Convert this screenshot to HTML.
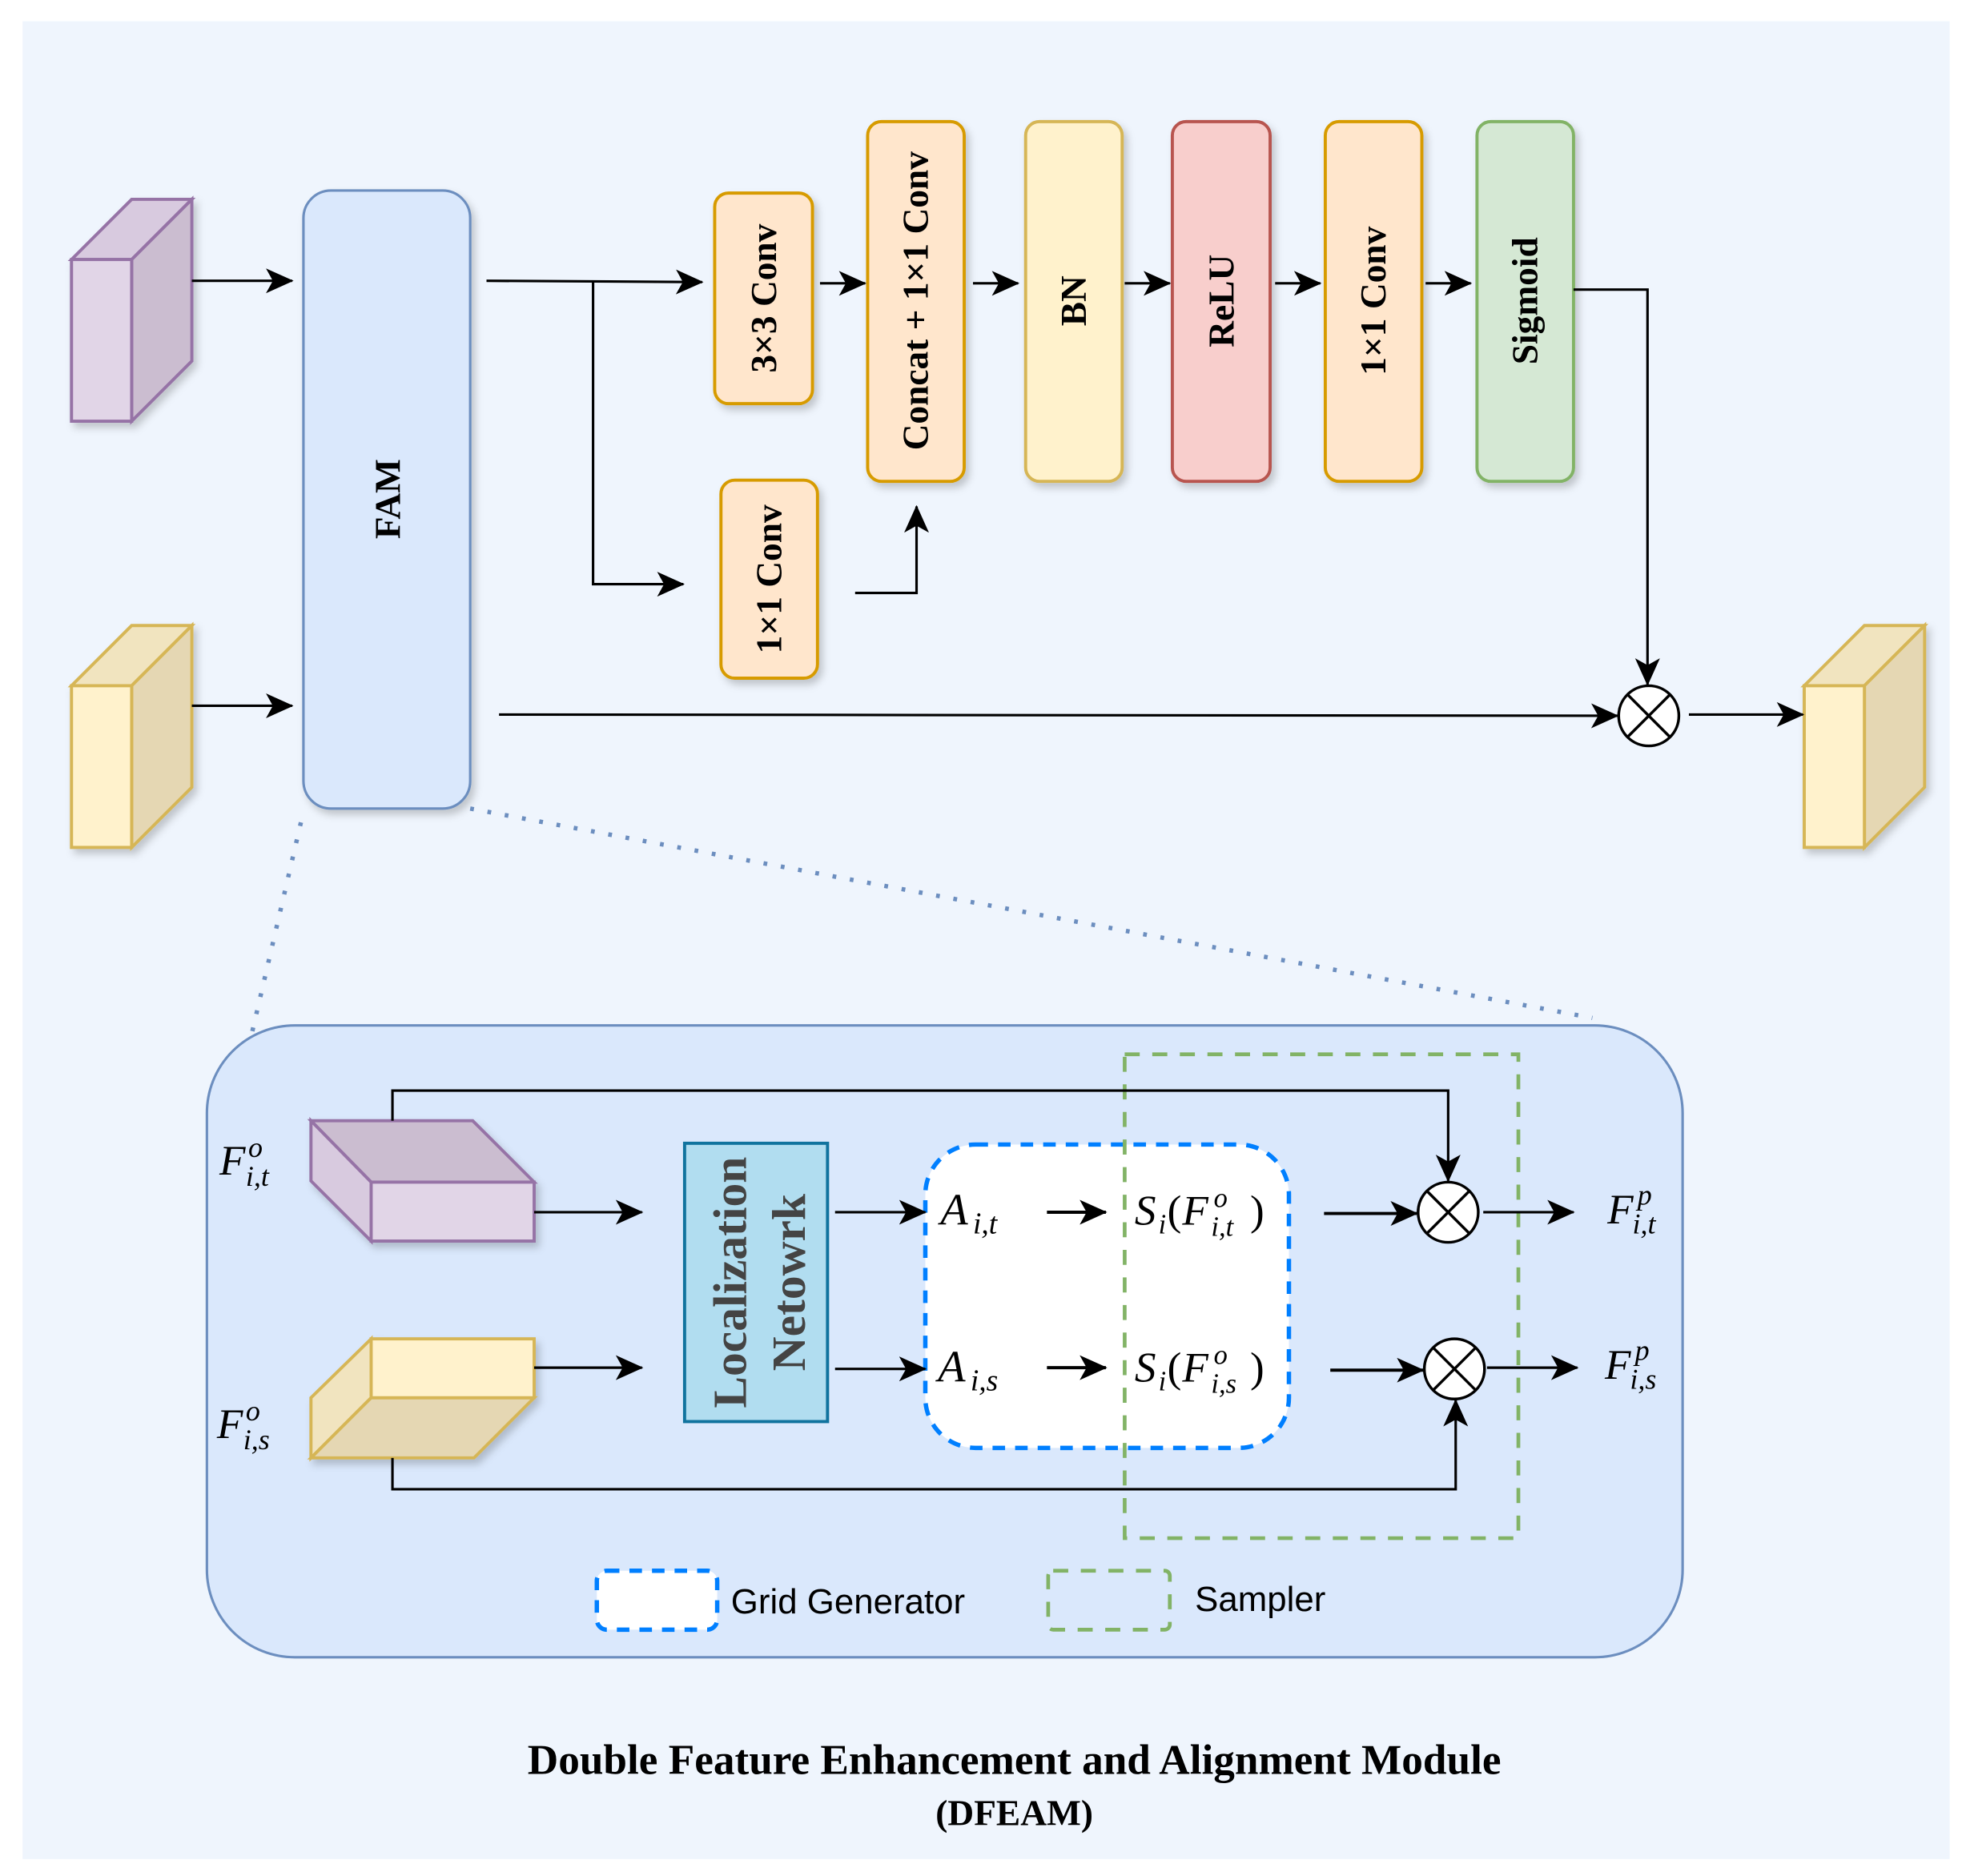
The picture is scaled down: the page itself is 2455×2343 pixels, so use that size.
<!DOCTYPE html>
<html><head><meta charset="utf-8"><style>html,body{margin:0;padding:0;background:#fff}svg{display:block}</style></head>
<body>
<svg width="2455" height="2343" viewBox="0 0 1568 1496.5" xmlns="http://www.w3.org/2000/svg">
<defs>
<marker id="ar2" viewBox="0 0 20 20" refX="19" refY="10" markerWidth="22" markerHeight="22" markerUnits="userSpaceOnUse" orient="auto"><path d="M0,1 L20,10 L0,19 L5,10 Z" fill="#000"/></marker>
<filter id="sh" x="-20%" y="-20%" width="150%" height="150%"><feDropShadow dx="3" dy="4" stdDeviation="3" flood-color="#000" flood-opacity="0.2"/></filter>
</defs>
<rect x="0" y="0" width="1568" height="1497" fill="#fff"/>
<rect x="18" y="17" width="1537" height="1466" fill="#eff5fd"/>

<g stroke-width="2.5" filter="url(#sh)">
<polygon points="57,207 105,159 153,159 105,207" fill="#d8cadf" stroke="#9673a6"/>
<polygon points="105,207 153,159 153,288 105,336" fill="#cbbdd0" stroke="#9673a6"/>
<rect x="57" y="207" width="48" height="129" fill="#e1d5e7" stroke="#9673a6"/>
<polygon points="57,547 105,499 153,499 105,547" fill="#f1e4bf" stroke="#d6b656"/>
<polygon points="105,547 153,499 153,628 105,676" fill="#e5d7b3" stroke="#d6b656"/>
<rect x="57" y="547" width="48" height="129" fill="#fff2cc" stroke="#d6b656"/>
<polygon points="1439,547 1487,499 1535,499 1487,547" fill="#f1e4bf" stroke="#d6b656"/>
<polygon points="1487,547 1535,499 1535,628 1487,676" fill="#e5d7b3" stroke="#d6b656"/>
<rect x="1439" y="547" width="48" height="129" fill="#fff2cc" stroke="#d6b656"/>

<rect x="242" y="152" width="133" height="493" rx="22" fill="#dae8fc" stroke="#6c8ebf" stroke-width="2"/>
<rect x="570" y="154" width="78" height="168" rx="11" fill="#ffe6cc" stroke="#d79b00"/>
<rect x="575" y="383" width="77" height="158" rx="11" fill="#ffe6cc" stroke="#d79b00"/>
<rect x="692" y="97" width="77" height="287" rx="11" fill="#ffe6cc" stroke="#d79b00"/>
<rect x="818" y="97" width="77" height="287" rx="11" fill="#fff2cc" stroke="#d6b656"/>
<rect x="935" y="97" width="78" height="287" rx="11" fill="#f8cecc" stroke="#b85450"/>
<rect x="1057" y="97" width="77" height="287" rx="11" fill="#ffe6cc" stroke="#d79b00"/>
<rect x="1178" y="97" width="77" height="287" rx="11" fill="#d5e8d4" stroke="#82b366"/>
</g>

<g font-family="Liberation Serif, serif" font-weight="bold" font-size="29" text-anchor="middle" fill="#000">
<text transform="translate(319,398) rotate(-90)">FAM</text>
<text transform="translate(619,238) rotate(-90)">3×3 Conv</text>
<text transform="translate(623,462) rotate(-90)">1×1 Conv</text>
<text transform="translate(740,240) rotate(-90)">Concat + 1×1 Conv</text>
<text transform="translate(866,240) rotate(-90)">BN</text>
<text transform="translate(984,240) rotate(-90)">ReLU</text>
<text transform="translate(1105,240) rotate(-90)">1×1 Conv</text>
<text transform="translate(1226,240) rotate(-90)">Sigmoid</text>
</g>

<g stroke="#000" stroke-width="2" fill="none">
<line x1="153" y1="224" x2="233" y2="224" marker-end="url(#ar2)"/>
<line x1="153" y1="563" x2="233" y2="563" marker-end="url(#ar2)"/>
<line x1="388" y1="224" x2="560" y2="225" marker-end="url(#ar2)"/>
<polyline points="473,225 473,466 545,466" marker-end="url(#ar2)"/>
<line x1="654" y1="226" x2="690" y2="226" marker-end="url(#ar2)"/>
<line x1="776" y1="226" x2="812" y2="226" marker-end="url(#ar2)"/>
<line x1="897" y1="226" x2="933" y2="226" marker-end="url(#ar2)"/>
<line x1="1017" y1="226" x2="1053" y2="226" marker-end="url(#ar2)"/>
<line x1="1137" y1="226" x2="1173" y2="226" marker-end="url(#ar2)"/>
<polyline points="682,473 731,473 731,404" marker-end="url(#ar2)"/>
<polyline points="1255,231 1314,231 1314,546" marker-end="url(#ar2)"/>
<line x1="398" y1="570" x2="1290" y2="571" marker-end="url(#ar2)"/>
<line x1="1347" y1="570" x2="1438" y2="570" marker-end="url(#ar2)"/>
</g>
<g stroke="#000" stroke-width="2.2">
<circle cx="1315" cy="571" r="24" fill="#fff"/>
<line x1="1298" y1="554" x2="1332" y2="588"/><line x1="1332" y1="554" x2="1298" y2="588"/>
</g>

<g stroke="#6c8ebf" stroke-width="3.5" stroke-dasharray="3,11" fill="none">
<line x1="240" y1="656" x2="200" y2="828"/>
<line x1="375" y1="645" x2="1270" y2="812"/>
</g>

<rect x="165" y="818" width="1177" height="504" rx="70" fill="#dae8fc" stroke="#6c8ebf" stroke-width="2"/>
<rect x="738" y="913" width="290" height="242" rx="40" fill="#fff" stroke="#007fff" stroke-width="3.5" stroke-dasharray="10,8"/>
<rect x="897" y="841" width="314" height="386" fill="none" stroke="#82b366" stroke-width="3" stroke-dasharray="12,10"/>

<g stroke-width="2.5" filter="url(#sh)">
<polygon points="248,894 377,894 426,943 296,943" fill="#cbbdd0" stroke="#9673a6"/>
<polygon points="248,894 296,943 296,990 248,942" fill="#d8cadf" stroke="#9673a6"/>
<rect x="296" y="943" width="130" height="47" fill="#e1d5e7" stroke="#9673a6"/>
<polygon points="248,1163 248,1115 296,1068 296,1115" fill="#f1e4bf" stroke="#d6b656"/>
<polygon points="248,1163 296,1115 426,1115 378,1163" fill="#e5d7b3" stroke="#d6b656"/>
<rect x="296" y="1068" width="130" height="47" fill="#fff2cc" stroke="#d6b656"/>
</g>
<rect x="546" y="912" width="114" height="222" fill="#b1ddf0" stroke="#10739e" stroke-width="2.5"/>
<g font-family="Liberation Serif, serif" font-weight="bold" font-size="38" text-anchor="middle" fill="#444">
<text transform="translate(595,1023) rotate(-90)">Localization</text>
<text transform="translate(642,1023) rotate(-90)">Netowrk</text>
</g>

<g stroke="#000" stroke-width="2" fill="none">
<polyline points="313,894 313,870 1155,870 1155,942" marker-end="url(#ar2)"/>
<polyline points="313,1163 313,1188 1161,1188 1161,1117" marker-end="url(#ar2)"/>
<line x1="426" y1="967" x2="512" y2="967" marker-end="url(#ar2)"/>
<line x1="426" y1="1091" x2="512" y2="1091" marker-end="url(#ar2)"/>
<line x1="666" y1="967" x2="738" y2="967" marker-end="url(#ar2)"/>
<line x1="666" y1="1092" x2="738" y2="1092" marker-end="url(#ar2)"/>
<line x1="835" y1="967" x2="882" y2="967" marker-end="url(#ar2)" stroke-width="2.5"/>
<line x1="835" y1="1091" x2="882" y2="1091" marker-end="url(#ar2)" stroke-width="2.5"/>
<line x1="1056" y1="968" x2="1130" y2="968" marker-end="url(#ar2)" stroke-width="2.5"/>
<line x1="1061" y1="1093" x2="1135" y2="1093" marker-end="url(#ar2)" stroke-width="2.5"/>
<line x1="1183" y1="967" x2="1255" y2="967" marker-end="url(#ar2)"/>
<line x1="1186" y1="1091" x2="1258" y2="1091" marker-end="url(#ar2)"/>
</g>
<g stroke="#000" stroke-width="2.2">
<circle cx="1155" cy="967" r="24" fill="#fff"/>
<line x1="1138" y1="950" x2="1172" y2="984"/><line x1="1172" y1="950" x2="1138" y2="984"/>
<circle cx="1160" cy="1092" r="24" fill="#fff"/>
<line x1="1143" y1="1075" x2="1177" y2="1109"/><line x1="1177" y1="1075" x2="1143" y2="1109"/>
</g>

<g font-family="Liberation Serif, serif" font-style="italic" fill="#000">
<text x="175" y="937" font-size="34">F</text><text x="198" y="923" font-size="23">o</text><text x="196" y="946" font-size="23">i,t</text>
<text x="173" y="1147" font-size="34">F</text><text x="196" y="1133" font-size="23">o</text><text x="194" y="1156" font-size="23">i,s</text>
<text x="750" y="977" font-size="36">A</text><text x="776" y="984" font-size="24">i,t</text>
<text x="748" y="1102" font-size="36">A</text><text x="774" y="1109" font-size="24">i,s</text>
<text x="905" y="977" font-size="34">S</text><text x="924" y="984" font-size="22">i</text><text x="931" y="977" font-size="34" font-style="normal">(</text><text x="943" y="977" font-size="34">F</text><text x="968" y="963" font-size="22">o</text><text x="966" y="986" font-size="22">i,t</text><text x="997" y="977" font-size="34" font-style="normal">)</text>
<text x="905" y="1102" font-size="34">S</text><text x="924" y="1109" font-size="22">i</text><text x="931" y="1102" font-size="34" font-style="normal">(</text><text x="943" y="1102" font-size="34">F</text><text x="968" y="1088" font-size="22">o</text><text x="966" y="1111" font-size="22">i,s</text><text x="997" y="1102" font-size="34" font-style="normal">)</text>
<text x="1282" y="976" font-size="34">F</text><text x="1306" y="961" font-size="23">p</text><text x="1302" y="984" font-size="23">i,t</text>
<text x="1280" y="1100" font-size="34">F</text><text x="1304" y="1085" font-size="23">p</text><text x="1300" y="1108" font-size="23">i,s</text>
</g>

<rect x="476" y="1253" width="96" height="47" rx="8" fill="#fff" stroke="#007fff" stroke-width="3.5" stroke-dasharray="10,8"/>
<rect x="836" y="1253" width="97" height="47" rx="4" fill="#dae8fc" stroke="#82b366" stroke-width="3" stroke-dasharray="12,10"/>
<g font-family="Liberation Sans, sans-serif" font-size="28" fill="#000">
<text x="583" y="1287">Grid Generator</text>
<text x="953" y="1285">Sampler</text>
</g>
<g font-family="Liberation Serif, serif" font-weight="bold" text-anchor="middle" fill="#000">
<text x="809" y="1415" font-size="34">Double Feature Enhancement and Alignment Module</text>
<text x="809" y="1456" font-size="29">(DFEAM)</text>
</g>
</svg>
</body></html>
